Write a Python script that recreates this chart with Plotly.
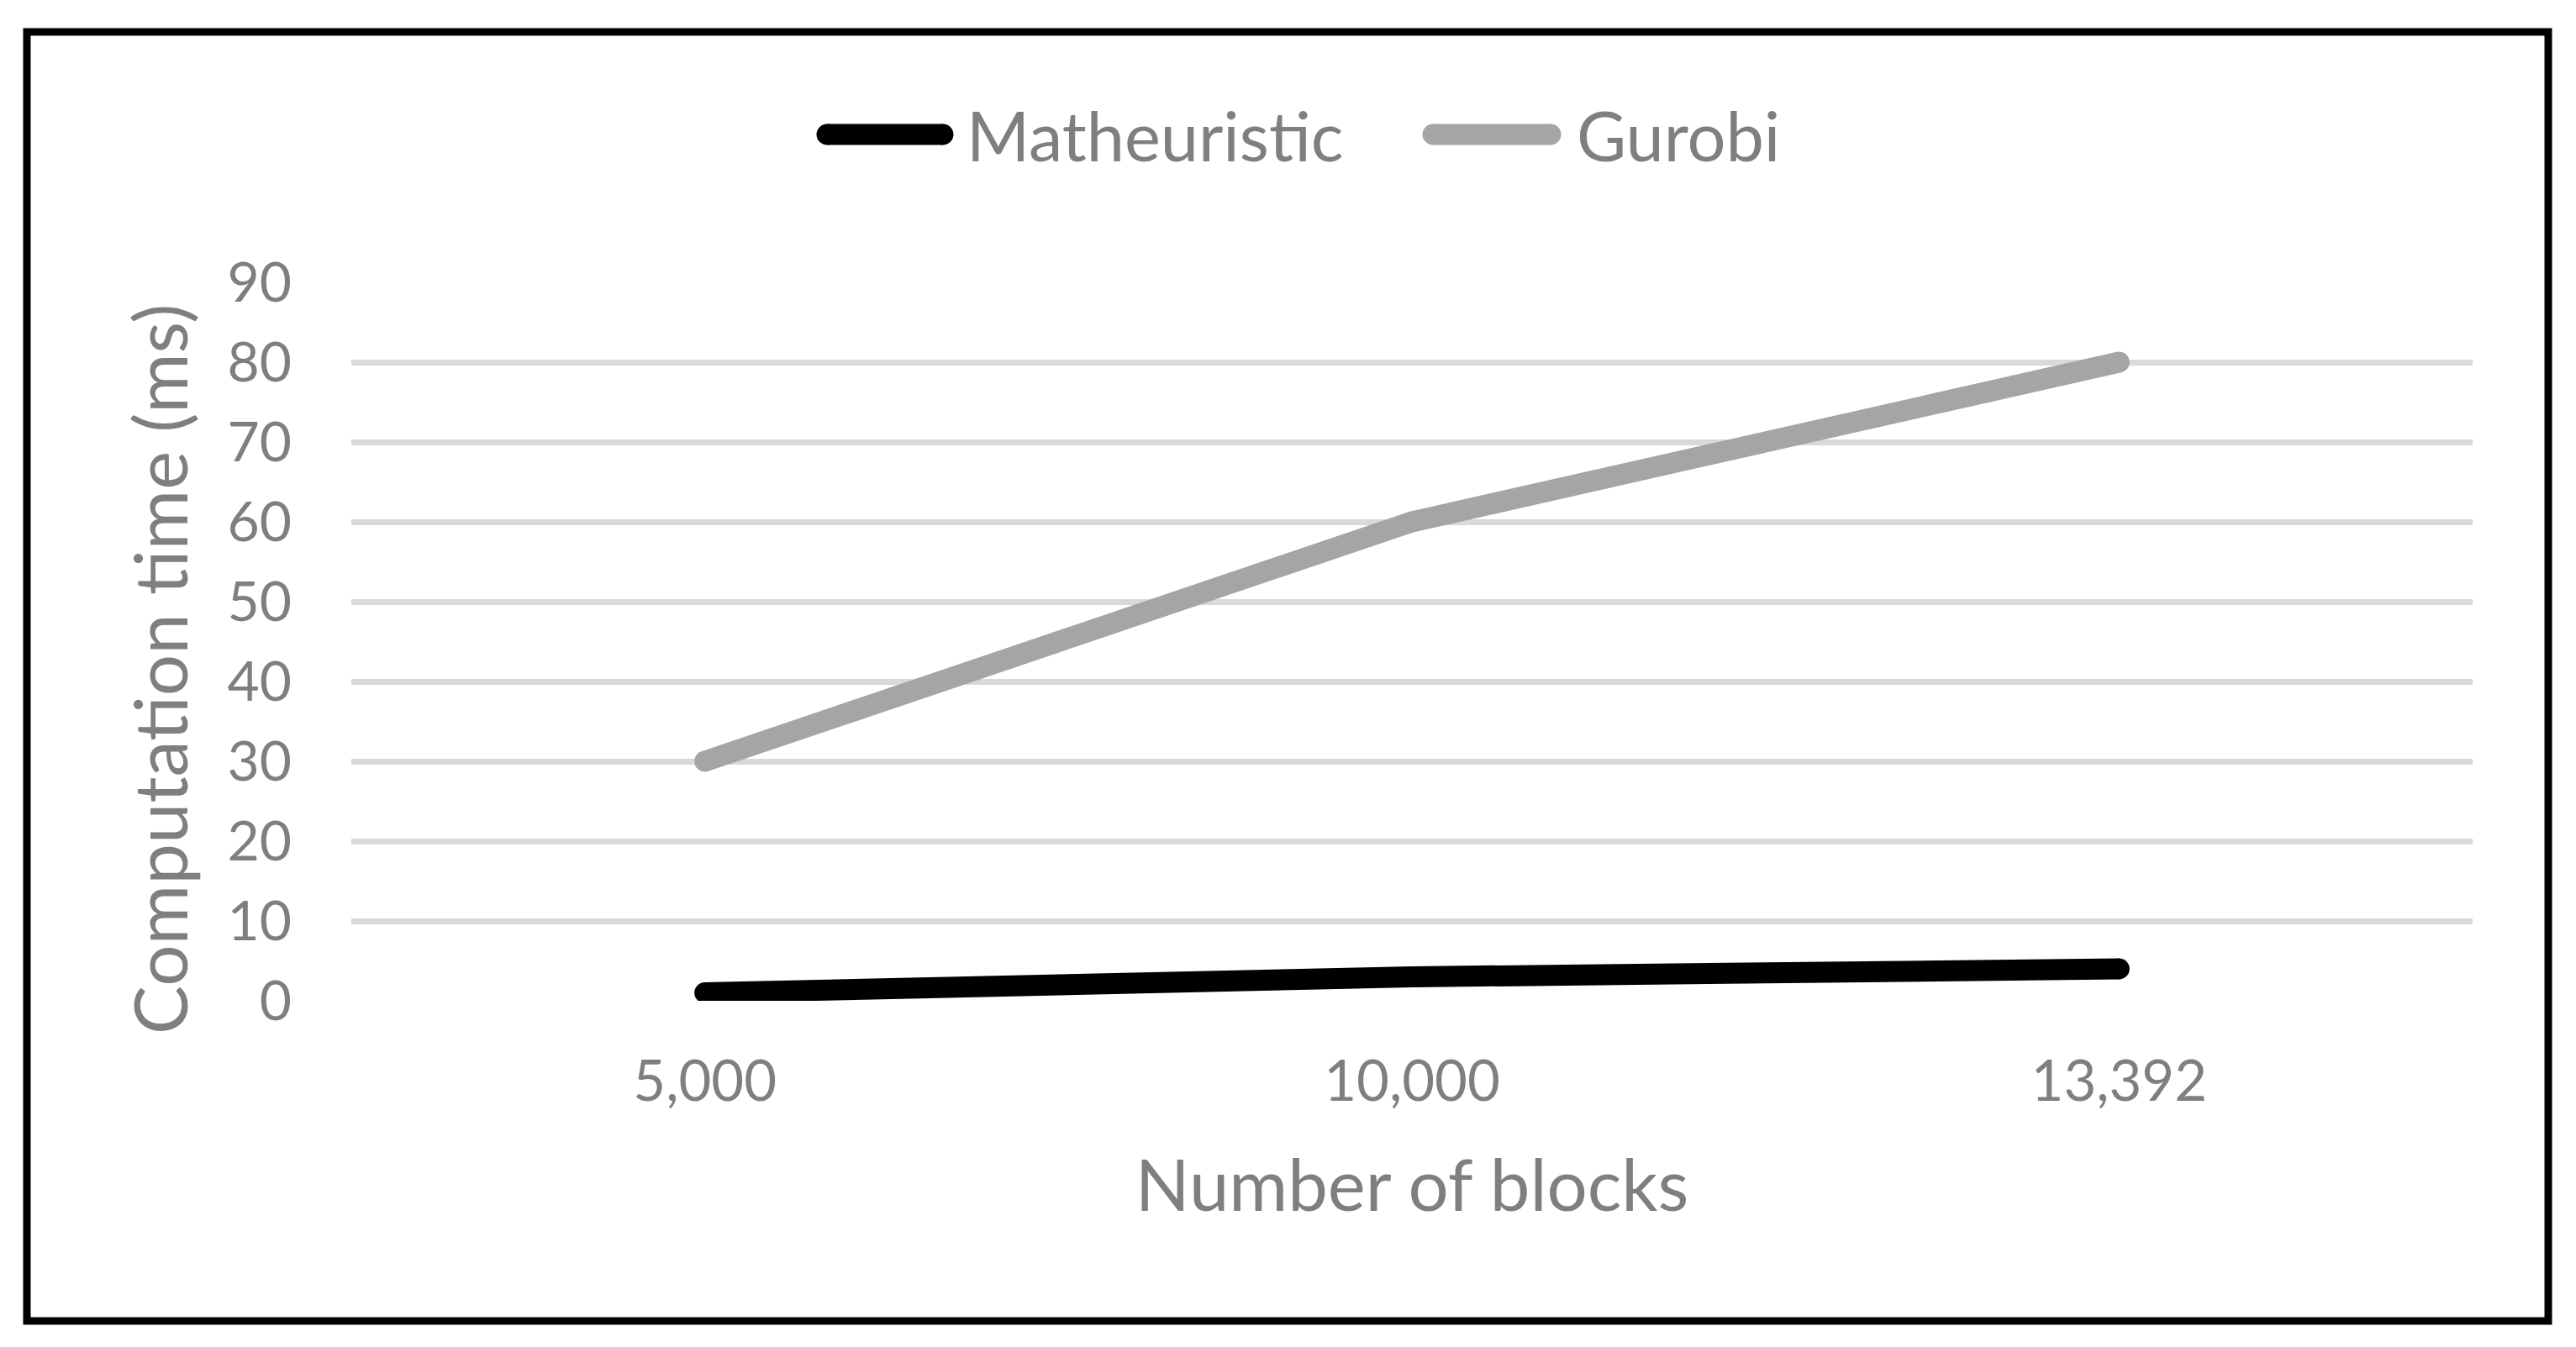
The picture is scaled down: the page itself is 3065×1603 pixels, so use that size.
import plotly.graph_objects as go

categories = ["5,000", "10,000", "13,392"]
matheuristic = [1, 3, 4]
gurobi = [30, 60, 80]
y_ticks = [0, 10, 20, 30, 40, 50, 60, 70, 80, 90]
series_names = ["Matheuristic", "Gurobi"]
series_colors = ["#000000", "#a5a5a5"]

FONT = "Lato"
GRAY_TXT = "#7f7f7f"

W, H = 3065, 1603
L, R, T, B = 418, 123, 336, 412
pw, ph = W - L - R, H - T - B

def px(x):
    return (x - L) / pw

def py(y):
    return (H - B - y) / ph

fig = go.Figure()
for name, vals, col in zip(series_names, [matheuristic, gurobi], series_colors):
    fig.add_trace(go.Scatter(
        x=categories, y=vals, name=name, mode="lines+markers",
        line=dict(color=col, width=25), marker=dict(color=col, size=25),
        showlegend=False,
    ))

# custom legend (thick lines with round caps, as in the original)
shapes = []
annotations = []
legend_items = [(984, 1122, 1148), (1705, 1845, 1874)]
LEG_Y = 160
LW = 25
for (xa, xb, xt), name, col in zip(legend_items, series_names, series_colors):
    shapes.append(dict(type="line", xref="paper", yref="paper",
                       x0=px(xa), x1=px(xb), y0=py(LEG_Y), y1=py(LEG_Y),
                       line=dict(color=col, width=LW)))
    for xe in (xa, xb):
        shapes.append(dict(type="circle", xref="paper", yref="paper",
                           xsizemode="pixel", ysizemode="pixel",
                           xanchor=px(xe), yanchor=py(LEG_Y),
                           x0=-LW / 2, x1=LW / 2, y0=-LW / 2, y1=LW / 2,
                           fillcolor=col, line=dict(width=0)))
    annotations.append(dict(text=name, xref="paper", yref="paper",
                            x=px(xt), y=py(LEG_Y), xanchor="left", yanchor="middle",
                            showarrow=False, font=dict(size=81, color=GRAY_TXT, family=FONT)))

# y-axis title
annotations.append(dict(text="Computation time (ms)", xref="paper", yref="paper",
                        x=px(189), y=py(797), xanchor="center", yanchor="middle",
                        textangle=-90, showarrow=False,
                        font=dict(size=87, color=GRAY_TXT, family=FONT)))

shapes.append(dict(
    type="rect", xref="paper", yref="paper",
    x0=px(32), x1=px(3032), y0=py(1572), y1=py(38),
    line=dict(color="black", width=9), fillcolor="rgba(0,0,0,0)", layer="above",
))

fig.update_layout(
    width=W, height=H,
    margin=dict(l=L, r=R, t=T, b=B),
    paper_bgcolor="white", plot_bgcolor="white",
    font=dict(family=FONT, color=GRAY_TXT),
    showlegend=False,
    xaxis=dict(
        type="category", range=[-0.5, 2.5], showgrid=False, zeroline=False,
        showline=False, ticks="", tickfont=dict(size=67, color=GRAY_TXT),
        ticklabelstandoff=51,
        title=dict(text="Number of blocks", font=dict(size=85, color=GRAY_TXT), standoff=58),
    ),
    yaxis=dict(
        range=[0, 90], tickvals=y_ticks, showgrid=True, gridcolor="#d9d9d9", gridwidth=7,
        zeroline=False, showline=False, ticks="", tickfont=dict(size=66, color=GRAY_TXT),
        ticklabelstandoff=70,
    ),
    shapes=shapes,
    annotations=annotations,
)

fig.write_html("out.html", config={"displayModeBar": False},
               post_script="document.body.style.margin='0';")
